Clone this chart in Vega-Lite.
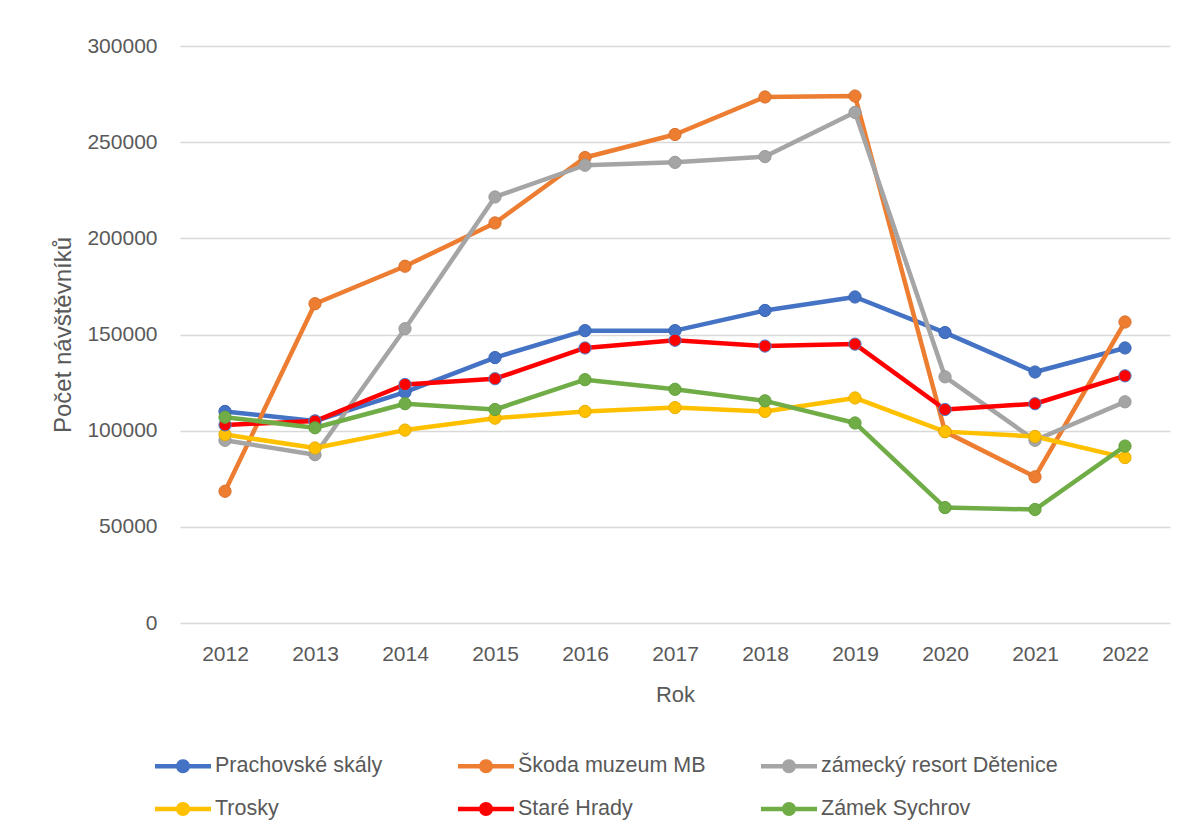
{
  "$schema": "https://vega.github.io/schema/vega-lite/v6.json",
  "width": 990,
  "height": 577,
  "autosize": {"type": "none"},
  "padding": {"left": 180, "top": 46, "right": 16, "bottom": 214},
  "background": "white",
  "config": {
    "font": "Liberation Sans",
    "view": {"stroke": null},
    "axis": {"labelColor": "#595959", "titleColor": "#595959", "labelFontSize": 21, "titleFontSize": 22, "titleFontWeight": "normal"}
  },
  "data": {
    "values": [
      {"rok": "2012", "misto": "Prachovské skály", "pocet": 110000},
      {"rok": "2013", "misto": "Prachovské skály", "pocet": 105000},
      {"rok": "2014", "misto": "Prachovské skály", "pocet": 120000},
      {"rok": "2015", "misto": "Prachovské skály", "pocet": 138000},
      {"rok": "2016", "misto": "Prachovské skály", "pocet": 152000},
      {"rok": "2017", "misto": "Prachovské skály", "pocet": 152000},
      {"rok": "2018", "misto": "Prachovské skály", "pocet": 162500},
      {"rok": "2019", "misto": "Prachovské skály", "pocet": 169500},
      {"rok": "2020", "misto": "Prachovské skály", "pocet": 151000},
      {"rok": "2021", "misto": "Prachovské skály", "pocet": 130500},
      {"rok": "2022", "misto": "Prachovské skály", "pocet": 143000},
      {"rok": "2012", "misto": "Škoda muzeum MB", "pocet": 68500},
      {"rok": "2013", "misto": "Škoda muzeum MB", "pocet": 166000},
      {"rok": "2014", "misto": "Škoda muzeum MB", "pocet": 185500},
      {"rok": "2015", "misto": "Škoda muzeum MB", "pocet": 208000},
      {"rok": "2016", "misto": "Škoda muzeum MB", "pocet": 242000},
      {"rok": "2017", "misto": "Škoda muzeum MB", "pocet": 254000},
      {"rok": "2018", "misto": "Škoda muzeum MB", "pocet": 273500},
      {"rok": "2019", "misto": "Škoda muzeum MB", "pocet": 274000},
      {"rok": "2020", "misto": "Škoda muzeum MB", "pocet": 99500},
      {"rok": "2021", "misto": "Škoda muzeum MB", "pocet": 76000},
      {"rok": "2022", "misto": "Škoda muzeum MB", "pocet": 156500},
      {"rok": "2012", "misto": "zámecký resort Dětenice", "pocet": 95000},
      {"rok": "2013", "misto": "zámecký resort Dětenice", "pocet": 87500},
      {"rok": "2014", "misto": "zámecký resort Dětenice", "pocet": 153000},
      {"rok": "2015", "misto": "zámecký resort Dětenice", "pocet": 221500},
      {"rok": "2016", "misto": "zámecký resort Dětenice", "pocet": 238000},
      {"rok": "2017", "misto": "zámecký resort Dětenice", "pocet": 239500},
      {"rok": "2018", "misto": "zámecký resort Dětenice", "pocet": 242500},
      {"rok": "2019", "misto": "zámecký resort Dětenice", "pocet": 265500},
      {"rok": "2020", "misto": "zámecký resort Dětenice", "pocet": 128000},
      {"rok": "2021", "misto": "zámecký resort Dětenice", "pocet": 95000},
      {"rok": "2022", "misto": "zámecký resort Dětenice", "pocet": 115000},
      {"rok": "2012", "misto": "Trosky", "pocet": 98000},
      {"rok": "2013", "misto": "Trosky", "pocet": 91000},
      {"rok": "2014", "misto": "Trosky", "pocet": 100300},
      {"rok": "2015", "misto": "Trosky", "pocet": 106500},
      {"rok": "2016", "misto": "Trosky", "pocet": 110000},
      {"rok": "2017", "misto": "Trosky", "pocet": 112000},
      {"rok": "2018", "misto": "Trosky", "pocet": 110000},
      {"rok": "2019", "misto": "Trosky", "pocet": 117000},
      {"rok": "2020", "misto": "Trosky", "pocet": 99500},
      {"rok": "2021", "misto": "Trosky", "pocet": 97000},
      {"rok": "2022", "misto": "Trosky", "pocet": 86000},
      {"rok": "2012", "misto": "Staré Hrady", "pocet": 103000},
      {"rok": "2013", "misto": "Staré Hrady", "pocet": 105000},
      {"rok": "2014", "misto": "Staré Hrady", "pocet": 124000},
      {"rok": "2015", "misto": "Staré Hrady", "pocet": 127000},
      {"rok": "2016", "misto": "Staré Hrady", "pocet": 143000},
      {"rok": "2017", "misto": "Staré Hrady", "pocet": 147000},
      {"rok": "2018", "misto": "Staré Hrady", "pocet": 144000},
      {"rok": "2019", "misto": "Staré Hrady", "pocet": 145000},
      {"rok": "2020", "misto": "Staré Hrady", "pocet": 111000},
      {"rok": "2021", "misto": "Staré Hrady", "pocet": 114000},
      {"rok": "2022", "misto": "Staré Hrady", "pocet": 128500},
      {"rok": "2012", "misto": "Zámek Sychrov", "pocet": 107000},
      {"rok": "2013", "misto": "Zámek Sychrov", "pocet": 101500},
      {"rok": "2014", "misto": "Zámek Sychrov", "pocet": 114000},
      {"rok": "2015", "misto": "Zámek Sychrov", "pocet": 111000},
      {"rok": "2016", "misto": "Zámek Sychrov", "pocet": 126500},
      {"rok": "2017", "misto": "Zámek Sychrov", "pocet": 121500},
      {"rok": "2018", "misto": "Zámek Sychrov", "pocet": 115500},
      {"rok": "2019", "misto": "Zámek Sychrov", "pocet": 104000},
      {"rok": "2020", "misto": "Zámek Sychrov", "pocet": 60000},
      {"rok": "2021", "misto": "Zámek Sychrov", "pocet": 59000},
      {"rok": "2022", "misto": "Zámek Sychrov", "pocet": 92000}
    ]
  },
  "encoding": {
    "x": {
      "field": "rok",
      "type": "ordinal",
      "scale": {"type": "point", "padding": 0.5},
      "axis": {"title": "Rok", "labelAngle": 0, "domain": false, "ticks": false, "grid": false, "labelPadding": 20, "titlePadding": 20}
    },
    "y": {
      "field": "pocet",
      "type": "quantitative",
      "scale": {"domain": [0, 300000], "nice": false},
      "axis": {
        "title": "Počet návštěvníků",
        "titleFontSize": 24,
        "values": [0, 50000, 100000, 150000, 200000, 250000, 300000],
        "format": "d",
        "domain": false,
        "ticks": false,
        "gridColor": "#d9d9d9",
        "gridWidth": 1.5,
        "labelPadding": 23,
        "titlePadding": 11
      }
    },
    "color": {
      "field": "misto",
      "type": "nominal",
      "scale": {
        "domain": ["Prachovské skály", "Škoda muzeum MB", "zámecký resort Dětenice", "Trosky", "Staré Hrady", "Zámek Sychrov"],
        "range": ["#4472C4", "#ED7D31", "#A5A5A5", "#FFC000", "#FF0000", "#70AD47"]
      },
      "legend": {
        "orient": "none",
        "legendX": -25,
        "legendY": 692,
        "direction": "horizontal",
        "columns": 3,
        "gridAlign": "all",
        "title": null,
        "padding": 0,
        "symbolType": "M-1,-0.08H1V0.08H-1Z M0.25,0A0.25,0.25,0,1,1,-0.25,0A0.25,0.25,0,1,1,0.25,0Z",
        "symbolSize": 3136,
        "symbolStrokeWidth": 0,
        "labelFontSize": 21.5,
        "labelColor": "#595959",
        "labelOffset": 4,
        "labelLimit": 400,
        "columnPadding": 6,
        "rowPadding": 4,
        "encode": {
          "symbols": {"update": {"fill": {"scale": "color", "field": "value"}, "strokeWidth": {"value": 0}, "opacity": {"value": 1}}}
        }
      }
    }
  },
  "layer": [
    {"mark": {"type": "line", "strokeWidth": 4.5, "strokeJoin": "round", "strokeCap": "round"}},
    {
      "mark": {"type": "point", "filled": true, "size": 150, "opacity": 1, "strokeWidth": 1},
      "encoding": {
        "stroke": {
          "field": "misto",
          "type": "nominal",
          "scale": {
            "domain": ["Prachovské skály", "Škoda muzeum MB", "zámecký resort Dětenice", "Trosky", "Staré Hrady", "Zámek Sychrov"],
            "range": ["#3a66b3", "#d9702a", "#999999", "#e8ae00", "#4a7fc9", "#63a03c"]
          },
          "legend": null
        }
      }
    }
  ]
}
